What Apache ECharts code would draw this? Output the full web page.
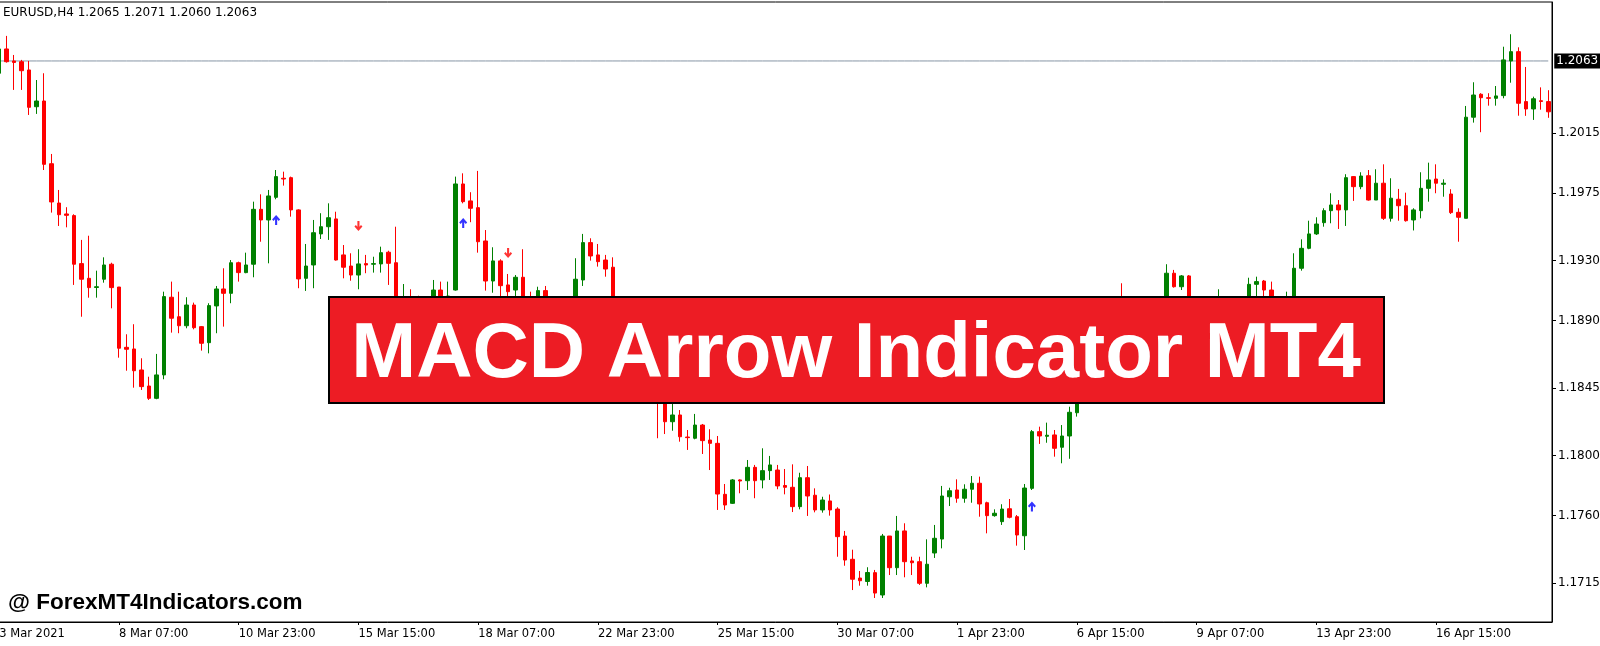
<!DOCTYPE html>
<html>
<head>
<meta charset="utf-8">
<script src="https://cdn.jsdelivr.net/npm/echarts@6.0.0/dist/echarts.min.js"></script>
<style>
html,body{margin:0;padding:0;background:#fff;}
#chart{width:1600px;height:646px;}
</style>
</head>
<body>
<div id="chart"></div>
<script>
const titleText = 'EURUSD,H4 1.2065 1.2071 1.2060 1.2063';
const bannerText = 'MACD Arrow Indicator MT4';
const watermarkText = '@ ForexMT4Indicators.com';
const tickLabels = ['3 Mar 2021','8 Mar 07:00','10 Mar 23:00','15 Mar 15:00','18 Mar 07:00','22 Mar 23:00','25 Mar 15:00','30 Mar 07:00','1 Apr 23:00','6 Apr 15:00','9 Apr 07:00','13 Apr 23:00','16 Apr 15:00'];
const labelEvery = 16;
const priceTicks = [1.1715,1.1760,1.1800,1.1845,1.1890,1.1930,1.1975,1.2015];
const bidPrice = 1.2063;

const opens = [1.20548,1.2071,1.2063,1.20625,1.2057,1.20325,1.20363,1.19945,1.19683,1.1961,
1.19599,1.19279,1.19181,1.1912,1.19175,1.19275,1.19123,1.18721,1.1871,1.1857,
1.18463,1.18381,1.18537,1.19055,1.18925,1.18865,1.19003,1.18859,1.18752,1.18997,
1.1911,1.19081,1.19285,1.19219,1.19275,1.19641,1.1957,1.19721,1.19848,1.19852,
1.19637,1.19181,1.1927,1.19477,1.19525,1.19577,1.19337,1.19263,1.19203,1.19279,
1.19275,1.19277,1.19355,1.19285,1.18903,1.19037,1.19003,1.1887,1.1897,1.19103,
1.19003,1.19103,1.1981,1.19697,1.19652,1.1943,1.19163,1.19297,1.19137,1.19103,
1.19188,1.19037,1.19003,1.19099,1.19003,1.18937,1.18937,1.19003,1.1917,1.19419,
1.19337,1.19303,1.19255,1.18837,1.18737,1.18803,1.18637,1.18537,1.18583,1.18423,
1.18225,1.1827,1.18123,1.18115,1.18203,1.18103,1.18081,1.17741,1.17681,1.17837,
1.17832,1.17921,1.17837,1.17899,1.17903,1.178,1.17788,1.17659,1.17852,1.17735,
1.17637,1.17697,1.17643,1.17463,1.17308,1.17183,1.1716,1.17219,1.1707,1.17463,
1.17252,1.17497,1.17297,1.17292,1.17148,1.1735,1.17443,1.17725,1.1777,1.17715,
1.17775,1.17815,1.17685,1.17599,1.17559,1.17645,1.17592,1.17465,1.17781,1.18159,
1.18128,1.18137,1.18055,1.1813,1.18285,1.18403,1.18537,1.1867,1.18603,1.1877,
1.19003,1.1887,1.1877,1.18837,1.18937,1.1887,1.19003,1.19215,1.19125,1.19197,
1.1897,1.18903,1.18983,1.18917,1.19003,1.19037,1.18957,1.19023,1.19141,1.19163,
1.19103,1.1897,1.18903,1.19003,1.19248,1.19381,1.19477,1.19552,1.19632,1.1967,
1.19637,1.19859,1.19792,1.19865,1.19703,1.19815,1.19581,1.19708,1.19665,1.1957,
1.19632,1.19781,1.19843,1.19808,1.19743,1.19621,1.19581,1.20255,1.20408,1.20385,
1.20381,1.20399,1.2063,1.20692,1.20359,1.2031,1.20365,1.20359];

const closes = [1.2071,1.20625,1.2062,1.20565,1.20321,1.20363,1.19941,1.1969,1.19605,1.19601,
1.19275,1.19175,1.19119,1.19125,1.1927,1.19119,1.18715,1.18708,1.18565,1.18459,
1.18381,1.18537,1.19059,1.18915,1.18865,1.19003,1.18852,1.18748,1.18999,1.1911,
1.19081,1.19285,1.19219,1.1927,1.19641,1.1957,1.1973,1.19859,1.19843,1.19637,
1.19177,1.19263,1.19485,1.19525,1.19585,1.19303,1.19255,1.19203,1.19277,1.1927,
1.19279,1.19352,1.19281,1.18903,1.19037,1.18937,1.1887,1.1897,1.19103,1.19003,
1.19063,1.1981,1.19692,1.19648,1.19425,1.19163,1.19297,1.19132,1.19092,1.19188,
1.1897,1.18937,1.19099,1.19003,1.18937,1.19003,1.19023,1.19175,1.19419,1.1933,
1.19292,1.19243,1.18837,1.18737,1.18803,1.18637,1.18537,1.18603,1.18423,1.18225,
1.1827,1.18125,1.18119,1.18203,1.18099,1.18081,1.17743,1.1767,1.17837,1.1783,
1.17921,1.17832,1.17899,1.17937,1.17797,1.17788,1.17659,1.17852,1.1773,1.17637,
1.17703,1.17637,1.17459,1.17303,1.17175,1.17165,1.1722,1.17083,1.17463,1.17252,
1.17497,1.17292,1.17285,1.17148,1.17275,1.17448,1.1773,1.17765,1.17715,1.17775,
1.17815,1.17677,1.17599,1.17615,1.17643,1.17588,1.1747,1.17783,1.18159,1.1813,
1.18135,1.18048,1.1813,1.18288,1.18403,1.18537,1.1867,1.18603,1.1877,1.18917,
1.1887,1.1877,1.18837,1.18937,1.1887,1.19003,1.19215,1.19125,1.19197,1.1897,
1.18903,1.18983,1.18917,1.19023,1.19037,1.18957,1.19023,1.19141,1.19159,1.19103,
1.1897,1.18903,1.19003,1.19248,1.19381,1.19477,1.19543,1.19632,1.1967,1.19637,
1.19852,1.19792,1.19863,1.19703,1.19815,1.19581,1.19715,1.19665,1.19565,1.19637,
1.19781,1.19837,1.19815,1.19815,1.19619,1.19588,1.20255,1.20403,1.20385,1.20381,
1.20397,1.20637,1.20692,1.20348,1.2031,1.20378,1.2036,1.20291];

const lows = [1.20537,1.20619,1.20437,1.20437,1.2027,1.20277,1.19903,1.19619,1.1953,1.19521,
1.19137,1.18925,1.19052,1.19052,1.19152,1.18981,1.18652,1.18565,1.18452,1.18437,
1.1837,1.18375,1.18508,1.18819,1.18815,1.18848,1.18841,1.18699,1.18681,1.18815,
1.18859,1.19015,1.19159,1.19215,1.19188,1.19425,1.19281,1.19708,1.19799,1.19592,
1.19115,1.19097,1.19115,1.19443,1.19437,1.19299,1.19181,1.19165,1.19108,1.19215,
1.19219,1.19219,1.19137,1.18837,1.18837,1.1887,1.18803,1.18837,1.18937,1.18957,
1.1897,1.19099,1.19681,1.19555,1.19352,1.19099,1.19085,1.19059,1.19037,1.1905,
1.18903,1.1887,1.18957,1.18937,1.18893,1.1887,1.18903,1.1897,1.1913,1.19299,
1.19259,1.19192,1.1877,1.1867,1.18703,1.18583,1.1849,1.1847,1.18115,1.18143,
1.18165,1.18092,1.18037,1.18108,1.1801,1.17903,1.17637,1.17637,1.17677,1.17748,
1.1777,1.17715,1.17781,1.17837,1.17775,1.17741,1.17623,1.17641,1.17597,1.17621,
1.17619,1.17599,1.17325,1.17265,1.17103,1.17132,1.17132,1.1705,1.1705,1.17203,
1.17203,1.17188,1.17203,1.17137,1.17121,1.17317,1.17381,1.17663,1.17685,1.17685,
1.17685,1.17592,1.17481,1.17592,1.17537,1.17581,1.17399,1.1737,1.1777,1.18077,
1.18085,1.17992,1.17948,1.17978,1.18259,1.1837,1.18503,1.18557,1.1857,1.1874,
1.18823,1.18717,1.1869,1.18783,1.18803,1.18837,1.1897,1.19119,1.19103,1.18903,
1.1885,1.1887,1.1887,1.18893,1.18957,1.18917,1.18917,1.18997,1.19037,1.19037,
1.18917,1.18837,1.1887,1.1897,1.19232,1.19375,1.1947,1.19525,1.19548,1.1951,
1.1953,1.19697,1.19775,1.19699,1.19703,1.1957,1.19559,1.19565,1.19559,1.195,
1.19581,1.19692,1.19748,1.19725,1.1961,1.19425,1.19581,1.20219,1.20155,1.20332,
1.20332,1.20381,1.20485,1.20265,1.20264,1.20237,1.20305,1.20251];

const highs = [1.20723,1.20797,1.2067,1.20637,1.2063,1.20503,1.20548,1.2001,1.1977,1.19655,
1.19608,1.19437,1.19465,1.19232,1.19321,1.19285,1.19123,1.18808,1.18875,1.18648,
1.18525,1.18677,1.19092,1.19159,1.19092,1.19055,1.19019,1.18863,1.19015,1.1913,
1.19248,1.19303,1.19292,1.19352,1.19692,1.19741,1.1977,1.19903,1.19892,1.19859,
1.19641,1.1941,1.1957,1.19615,1.19681,1.19625,1.19403,1.19348,1.19375,1.19337,
1.19325,1.19392,1.19365,1.19525,1.19143,1.19108,1.19065,1.19037,1.1917,1.19159,
1.19159,1.19859,1.19881,1.19755,1.19897,1.19503,1.19388,1.19308,1.1921,1.19203,
1.19375,1.19092,1.19125,1.1913,1.19037,1.19037,1.19063,1.19315,1.19477,1.19448,
1.1941,1.19337,1.19321,1.18903,1.1885,1.18837,1.1869,1.1865,1.18637,1.1847,
1.18348,1.18303,1.1817,1.18277,1.1821,1.18175,1.1813,1.1781,1.17843,1.17841,
1.1797,1.17937,1.18048,1.17997,1.17937,1.1791,1.17941,1.17885,1.1793,1.17781,
1.17725,1.1774,1.17655,1.17497,1.17372,1.1723,1.17255,1.17237,1.17477,1.17463,
1.17597,1.17548,1.17325,1.17325,1.17441,1.17537,1.17797,1.17785,1.17841,1.17808,
1.17863,1.17859,1.17692,1.17641,1.17675,1.1771,1.17603,1.1781,1.1817,1.18192,
1.18219,1.1817,1.18203,1.18325,1.1847,1.1857,1.18703,1.18717,1.18823,1.1897,
1.19148,1.18917,1.1889,1.19003,1.18983,1.19037,1.19275,1.19237,1.19203,1.19203,
1.19023,1.19037,1.19023,1.19108,1.1905,1.1905,1.19043,1.19185,1.19192,1.1917,
1.19159,1.19003,1.19092,1.19348,1.19441,1.19565,1.19588,1.19648,1.19748,1.19703,
1.19875,1.19863,1.19888,1.19903,1.19908,1.19941,1.19848,1.19777,1.19752,1.19648,
1.19888,1.19952,1.19941,1.19841,1.19775,1.19648,1.2033,1.20488,1.20415,1.20415,
1.20463,1.20725,1.20808,1.20721,1.2059,1.20392,1.20454,1.20435];

const upArrowBars = [37, 62, 138];
const upArrowPrices = [1.1957, 1.1955, 1.1766];
const downArrowBars = [48, 68];
const downArrowPrices = [1.1953, 1.1935];

const categories = opens.map((_, i) => i);
const candles = opens.map((o, i) => [o, closes[i], lows[i], highs[i]]);
const bidLine = categories.map(() => bidPrice);
const arrowPath = 'path://M5 0 L10 5.5 L8.2 7.2 L6.3 5.2 L6.3 12 L3.7 12 L3.7 5.2 L1.8 7.2 L0 5.5 Z';

const chart = echarts.init(document.getElementById('chart'), null, {renderer: 'canvas'});
chart.setOption({
  animation: false,
  backgroundColor: '#ffffff',
  title: {
    text: titleText, left: 3, top: 7, padding: 0,
    textStyle: {fontFamily: 'DejaVu Sans', fontSize: 12, fontWeight: 'normal', color: '#000'}
  },
  grid: {left: -4.5, right: 48, top: 2, bottom: 24, show: true, borderColor: '#000', borderWidth: 1,
         containLabel: false, outerBoundsMode: 'none'},
  xAxis: {
    type: 'category', data: categories, boundaryGap: true,
    axisLine: {show: true, lineStyle: {color: '#000', width: 1}},
    axisTick: {show: true, interval: labelEvery - 1, alignWithLabel: true, length: 3, lineStyle: {color: '#000'}},
    axisLabel: {
      interval: labelEvery - 1, align: 'left', margin: 6,
      fontFamily: 'DejaVu Sans', fontSize: 11.5, color: '#000',
      formatter: (v, i) => (i % labelEvery === 0 ? (tickLabels[i / labelEvery] || '') : '')
    },
    splitLine: {show: false}
  },
  yAxis: {
    type: 'value', position: 'right', min: 1.1689, max: 1.21023, scale: true,
    axisLine: {show: true, lineStyle: {color: '#000'}},
    axisTick: {show: true, length: 4, customValues: priceTicks, lineStyle: {color: '#000'}},
    axisLabel: {
      customValues: priceTicks, margin: 6,
      formatter: v => Number(v).toFixed(4),
      fontFamily: 'DejaVu Sans', fontSize: 12, color: '#000'
    },
    splitLine: {show: false}
  },
  series: [
    {
      type: 'line', data: bidLine, symbol: 'none', silent: true, z: 1,
      lineStyle: {color: '#8795a5', width: 1},
      endLabel: {
        show: true, distance: 6, formatter: bidPrice.toFixed(4),
        backgroundColor: '#000', color: '#fff', padding: [2, 3, 1, 2],
        fontFamily: 'DejaVu Sans', fontSize: 12
      }
    },
    {
      type: 'candlestick', data: candles, barWidth: 4, z: 2,
      itemStyle: {color: '#008000', color0: '#ff0000', borderColor: '#008000', borderColor0: '#ff0000', borderWidth: 1}
    },
    {
      type: 'scatter', data: upArrowBars.map((b, i) => [b, upArrowPrices[i]]),
      symbol: arrowPath, symbolSize: [8, 10], itemStyle: {color: '#0000ff'}
    },
    {
      type: 'scatter', data: downArrowBars.map((b, i) => [b, downArrowPrices[i]]),
      symbol: arrowPath, symbolRotate: 180, symbolSize: [8, 10], itemStyle: {color: '#ff0000'}
    }
  ],
  graphic: [
    {
      type: 'rect', z: 100,
      shape: {x: 329, y: 297, width: 1055, height: 106},
      style: {fill: '#ed1c24', stroke: '#000', lineWidth: 2}
    },
    {
      type: 'text', z: 101, x: 856, y: 355,
      style: {
        text: bannerText, fill: '#fff', align: 'center', verticalAlign: 'middle',
        font: 'bold 78px "Liberation Sans", Arial, sans-serif'
      }
    },
    {
      type: 'text', z: 101, x: 8, y: 603,
      style: {
        text: watermarkText, fill: '#000', align: 'left', verticalAlign: 'middle',
        font: 'bold 22.5px "Liberation Sans", Arial, sans-serif'
      }
    }
  ]
});
</script>
</body>
</html>
